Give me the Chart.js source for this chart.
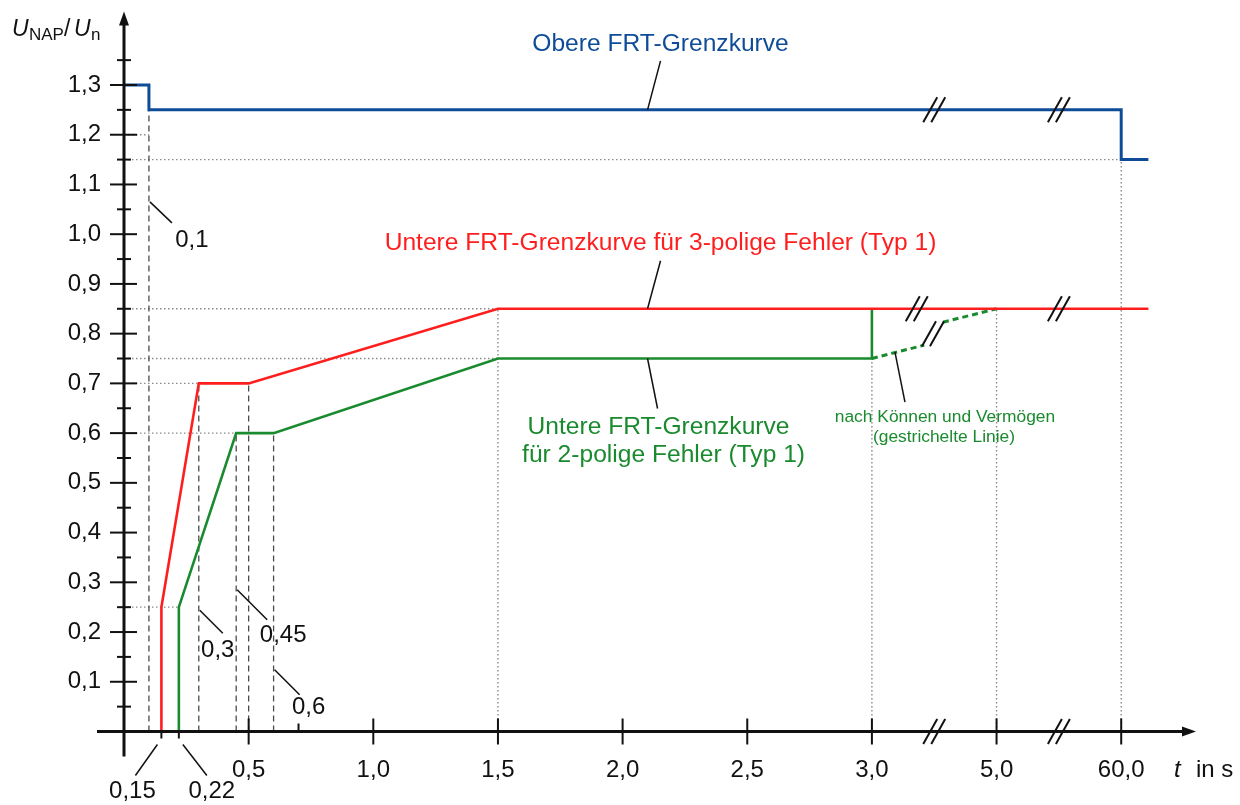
<!DOCTYPE html>
<html>
<head>
<meta charset="utf-8">
<script src="https://cdn.jsdelivr.net/npm/chart.js@4.4.1/dist/chart.umd.min.js"></script>
<style>
  html, body { margin: 0; padding: 0; background: #fff; }
  #wrap { width: 1240px; height: 805px; }
</style>
</head>
<body>
<div id="wrap"><canvas id="c" width="1240" height="805"></canvas></div>
<script>
// FRT limit curves: time t in s, voltage ratio U_NAP / U_n
const upperT  = [0, 0.1, 0.1, 60, 60, 72];
const upperU  = [1.3, 1.3, 1.25, 1.25, 1.15, 1.15];
const lower3T = [0.15, 0.15, 0.3, 0.5, 1.5, 72];
const lower3U = [0, 0.25, 0.7, 0.7, 0.85, 0.85];
const lower2T = [0.22, 0.22, 0.45, 0.6, 1.5, 3.0, 3.0];
const lower2U = [0, 0.25, 0.6, 0.6, 0.75, 0.75, 0.85];
// optional recovery "nach Können und Vermögen", interrupted at the axis break
const optionalT = [3.0, 3.84, 3.99, 4.14, 5.0];
const optionalU = [0.75, 0.777, null, 0.823, 0.85];

// guide lines
const dashedTimes  = [[0.1, 1.25], [0.3, 0.7], [0.45, 0.6], [0.5, 0.7], [0.6, 0.6]];      // [t, up to U]
const dottedLevels = [[1.2, 0.1], [1.15, 60], [0.85, 1.5], [0.75, 1.5], [0.7, 0.3], [0.6, 0.45], [0.25, 0.22]]; // [U, up to t]
const dottedTimes  = [[1.5, 0.85], [3.0, 0.75], [5.0, 0.85], [60, 1.15]];               // [t, up to U]

// axis ticks
const xTicks = [0.5, 1.0, 1.5, 2.0, 2.5, 3.0, 5.0, 60.0];
const yTicks = [0.1, 0.2, 0.3, 0.4, 0.5, 0.6, 0.7, 0.8, 0.9, 1.0, 1.1, 1.2, 1.3];
// time axis: linear up to 3 s, then 3–5 s and 5–60 s each squeezed into half a unit
const axisBreaks = [3, 5, 60];

const BLUE = '#0f4c97', RED = '#ff1e1e', GREEN = '#1a8a2e', INK = '#111';
const FONT = '"Liberation Sans", Arial, sans-serif';

function toPos(t) {
  if (t === null || t <= axisBreaks[0]) return t;
  let p = axisBreaks[0];
  for (let i = 1; i < axisBreaks.length; i++) {
    const a = axisBreaks[i - 1], b = axisBreaks[i];
    if (t <= b) return p + (t - a) * 0.5 / (b - a);
    p += 0.5;
  }
  const n = axisBreaks.length;
  return p + (t - axisBreaks[n - 1]) * 0.5 / (axisBreaks[n - 1] - axisBreaks[n - 2]);
}

class BrokenTimeScale extends Chart.LinearScale {
  getPixelForValue(v) { return super.getPixelForValue(toPos(v)); }
}
BrokenTimeScale.id = 'brokenTime';
BrokenTimeScale.defaults = Chart.LinearScale.defaults;
Chart.register(BrokenTimeScale);

const pts = (T, U) => T.map((t, i) => ({ x: t, y: U[i] }));
const fmt = v => v.toFixed(1).replace('.', ',');

const curve = (data, color, width, extra) => Object.assign({
  data, borderColor: color, borderWidth: width, pointRadius: 0, fill: false,
  tension: 0, spanGaps: false, borderJoinStyle: 'miter', borderCapStyle: 'butt', order: 0
}, extra || {});

const datasets = [
  curve(pts(lower3T, lower3U), RED, 2.6),
  curve(pts(upperT, upperU), BLUE, 3),
  curve(pts(lower2T, lower2U), GREEN, 2.6, { order: 1 }),
  curve(pts(optionalT, optionalU), GREEN, 3, { borderDash: [6, 4], order: 1 })
];
dashedTimes.forEach(([t, u]) => datasets.push(curve([{ x: t, y: 0 }, { x: t, y: u }], '#4a4a4a', 1.3, { borderDash: [6, 4], order: 5 })));
dottedLevels.forEach(([u, t]) => datasets.push(curve([{ x: 0, y: u }, { x: t, y: u }], '#8a8a8a', 1.4, { borderDash: [1.5, 2.5], order: 6 })));
dottedTimes.forEach(([t, u]) => datasets.push(curve([{ x: t, y: 0 }, { x: t, y: u }], '#8a8a8a', 1.4, { borderDash: [1.5, 2.5], order: 6 })));

function line(ctx, x1, y1, x2, y2) { ctx.beginPath(); ctx.moveTo(x1, y1); ctx.lineTo(x2, y2); ctx.stroke(); }

function breakMark(ctx, cx, cy) {
  ctx.save();
  ctx.strokeStyle = INK; ctx.lineWidth = 2;
  [-4, 4].forEach(o => line(ctx, cx + o - 7, cy + 12.5, cx + o + 7, cy - 12.5));
  ctx.restore();
}

// callouts: anchor in data units, leader vector and label offset in px
const callouts = [
  { t: 0.1,  u: 1.065, sx: 1,  sy: 0, dx: 22,  dy: 21, lines: ['0,1'],  ox: 20, oy: 24 },
  { t: 0.3,  u: 0.244, sx: 1,  sy: 0, dx: 23,  dy: 23, lines: ['0,3'],  ox: -5, oy: 24 },
  { t: 0.45, u: 0.285, sx: 1,  sy: 0, dx: 30,  dy: 30, lines: ['0,45'], ox: 16, oy: 22 },
  { t: 0.6,  u: 0.124, sx: 1,  sy: 0, dx: 25,  dy: 25, lines: ['0,6'],  ox: 9,  oy: 19 },
  { t: 0.15, u: 0,     sx: -4, sy: 13, dx: -22, dy: 31, lines: ['0,15'], ox: -3, oy: 22 },
  { t: 0.22, u: 0,     sx: 4,  sy: 13, dx: 24,  dy: 31, lines: ['0,22'], ox: 5,  oy: 22 }
];
const notes = [
  { t: 2.1, u: 1.25, dx: 13, dy: -49, color: BLUE, size: 24.6, lines: [['Obere FRT-Grenzkurve', 0, -10]] },
  { t: 2.1, u: 0.85, dx: 13, dy: -48, color: RED, size: 24.6, lines: [['Untere FRT-Grenzkurve für 3-polige Fehler (Typ 1)', 0, -11]] },
  { t: 2.1, u: 0.75, dx: 10, dy: 50, color: GREEN, size: 24.6,
    lines: [['Untere FRT-Grenzkurve', 1, 25], ['für 2-polige Fehler (Typ 1)', 6, 53]] },
  { t: 3.37, u: 0.763, dx: 10, dy: 50, color: GREEN, size: 17.4,
    lines: [['nach Können und Vermögen', 40, 20], ['(gestrichelte Linie)', 39, 40]] }
];

const frame = {
  id: 'frame',
  afterDatasetsDraw(chart) {
    const { ctx } = chart;
    const xs = chart.scales.x, ys = chart.scales.y;
    const X = t => xs.getPixelForValue(t), Y = u => ys.getPixelForValue(u);
    const XP = p => xs.getPixelForDecimal((p - xs.min) / (xs.max - xs.min));
    const x0 = X(0), y0 = Y(0);
    ctx.save();
    ctx.strokeStyle = INK; ctx.fillStyle = INK; ctx.lineCap = 'butt';

    // axes with arrow heads
    ctx.lineWidth = 3;
    line(ctx, x0 - 27, y0, xs.right - 12, y0);
    line(ctx, x0, y0 + 25, x0, ys.top + 13);
    ctx.beginPath();
    ctx.moveTo(xs.right, y0); ctx.lineTo(xs.right - 14, y0 - 5); ctx.lineTo(xs.right - 14, y0 + 5); ctx.closePath(); ctx.fill();
    ctx.beginPath();
    ctx.moveTo(x0, ys.top + 1); ctx.lineTo(x0 - 5, ys.top + 15); ctx.lineTo(x0 + 5, ys.top + 15); ctx.closePath(); ctx.fill();

    // tick marks crossing the axes
    ctx.lineWidth = 2;
    yTicks.forEach(v => line(ctx, x0 - 14, Y(v), x0 + 13, Y(v)));
    for (let v = 0.05; v < 1.4; v += 0.1) line(ctx, x0 - 7, Y(v), x0 + 7, Y(v));
    xTicks.forEach(v => line(ctx, X(v), y0 - 13, X(v), y0 + 13));
    [0.15, 0.22].forEach(v => line(ctx, X(v), y0, X(v), y0 + 7));
    line(ctx, X(0.7), y0 - 8, X(0.7), y0);

    // axis break marks
    [3.25, 3.75].forEach(p => {
      breakMark(ctx, XP(p), y0);
      breakMark(ctx, XP(p), Y(1.25));
    });
    breakMark(ctx, XP(3.18), Y(0.85));
    breakMark(ctx, XP(3.75), Y(0.85));
    breakMark(ctx, XP(3.245), Y(0.8));

    // callout labels on the time axis
    ctx.lineWidth = 1.5;
    ctx.font = '24px ' + FONT; ctx.textAlign = 'center'; ctx.textBaseline = 'alphabetic';
    callouts.forEach(c => {
      const sx = X(c.t) + c.sx, sy = Y(c.u) + c.sy;
      line(ctx, sx, sy, sx + c.dx, sy + c.dy);
      ctx.fillText(c.lines[0], sx + c.dx + c.ox, sy + c.dy + c.oy);
    });

    // curve names
    notes.forEach(n => {
      const sx = X(n.t), sy = Y(n.u);
      ctx.strokeStyle = INK;
      line(ctx, sx, sy, sx + n.dx, sy + n.dy);
      ctx.fillStyle = n.color; ctx.font = n.size + 'px ' + FONT;
      n.lines.forEach(([txt, ox, oy]) => ctx.fillText(txt, sx + n.dx + ox, sy + n.dy + oy));
    });

    // axis titles
    ctx.fillStyle = INK; ctx.textAlign = 'left';
    ctx.font = 'italic 23px ' + FONT; ctx.fillText('U', 12, 36);
    ctx.font = '17px ' + FONT; ctx.fillText('NAP', 29, 40);
    ctx.font = '23px ' + FONT; ctx.fillText('/', 64, 36);
    ctx.font = 'italic 23px ' + FONT; ctx.fillText('U', 74, 36);
    ctx.font = '17px ' + FONT; ctx.fillText('n', 91, 40);
    ctx.font = 'italic 24px ' + FONT; ctx.fillText('t', 1174, 777);
    ctx.font = '24px ' + FONT; ctx.fillText('in s', 1196, 777);
    ctx.restore();
  }
};

new Chart(document.getElementById('c'), {
  type: 'line',
  data: { datasets },
  plugins: [frame],
  options: {
    responsive: false,
    animation: false,
    events: [],
    layout: { autoPadding: false, padding: { top: 10.4, right: 44, left: 0, bottom: 0 } },
    plugins: { legend: { display: false }, tooltip: { enabled: false } },
    scales: {
      x: {
        type: 'brokenTime',
        bounds: 'data',
        grid: { display: false, drawTicks: false },
        border: { display: false },
        afterDataLimits: s => { s.min = 0; s.max = 4.3; },
        afterBuildTicks: s => { s.ticks = xTicks.map(v => ({ value: v })); },
        afterFit: s => { s.height = 73.5; s.paddingLeft = 0; s.paddingRight = 0; },
        ticks: { autoSkip: false, maxRotation: 0, padding: 24, color: INK,
                 font: { family: FONT, size: 24 }, callback: v => fmt(v) }
      },
      y: {
        type: 'linear',
        bounds: 'data',
        grid: { display: false, drawTicks: false },
        border: { display: false },
        afterDataLimits: s => { s.min = 0; s.max = 1.45; },
        afterBuildTicks: s => { s.ticks = yTicks.map(v => ({ value: v })); },
        afterFit: s => { s.width = 124; s.paddingTop = 0; s.paddingBottom = 0; },
        ticks: { autoSkip: false, padding: 23, color: INK,
                 font: { family: FONT, size: 24 }, callback: v => fmt(v) }
      }
    }
  }
});
</script>
</body>
</html>
